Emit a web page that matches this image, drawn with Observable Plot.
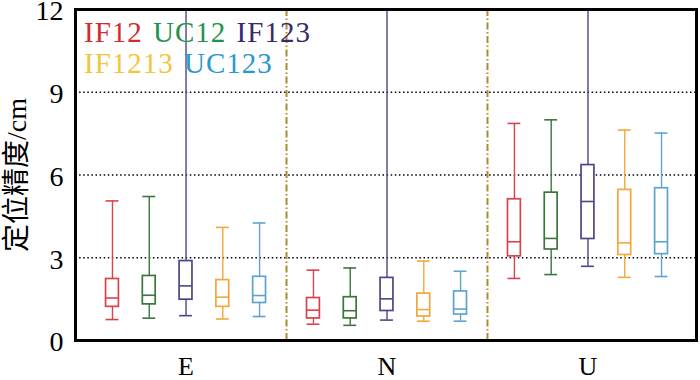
<!DOCTYPE html>
<html>
<head>
<meta charset="utf-8">
<script src="https://cdn.jsdelivr.net/npm/d3@7"></script>
<script src="https://cdn.jsdelivr.net/npm/@observablehq/plot@0.6"></script>
<style>
  body { margin: 0; background: #fff; }
  #wrap { position: relative; width: 700px; height: 380px; }
  #legend { position: absolute; left: 84px; top: 17px; font-family: "Liberation Serif", "Times New Roman", "DejaVu Serif", serif; font-size: 29px; line-height: 31px; letter-spacing: 1px; word-spacing: 2px; white-space: nowrap; }
  svg text { font-family: "Liberation Serif", "Times New Roman", "DejaVu Serif", "Noto Sans CJK SC", serif; }
</style>
</head>
<body>
<div id="wrap"><div id="legend"></div></div>
<script>
const groups = ["E", "N", "U"];
const series = ["IF12", "UC12", "IF123", "IF1213", "UC123"];
const boxColors = ["#d9434b", "#3c763c", "#4a4786", "#f3a73b", "#5ea3d0"];
const legendColors = ["#d22b2b", "#23924a", "#372a6e", "#f2c53d", "#2898d0"];
const yTicks = [0, 3, 6, 9, 12];

// rows: groups E, N, U; columns: series order
const lower  = [[0.76, 0.81, 0.90, 0.78, 0.87], [0.59, 0.55, 0.74, 0.70, 0.70], [2.25, 2.39, 2.69, 2.29, 2.32]];
const q1     = [[1.22, 1.31, 1.48, 1.22, 1.36], [0.80, 0.80, 1.07, 0.87, 0.94], [3.05, 3.30, 3.68, 3.10, 3.13]];
const median = [[1.54, 1.64, 1.98, 1.57, 1.63], [1.10, 1.08, 1.51, 1.12, 1.14], [3.58, 3.70, 5.04, 3.54, 3.58]];
const q3     = [[2.23, 2.34, 2.88, 2.19, 2.31], [1.54, 1.57, 2.27, 1.70, 1.78], [5.12, 5.36, 6.36, 5.46, 5.52]];
const upper  = [[5.06, 5.22, 12.0, 4.10, 4.26], [2.55, 2.63, 12.0, 2.88, 2.51], [7.87, 8.00, 12.0, 7.63, 7.52]];

const step = 0.183, half = 0.032;
const rows = [];
groups.forEach((g, gi) => series.forEach((s, si) => {
  const x = gi + 1 + (si - 2) * step;
  rows.push({group: g, series: s, color: boxColors[si], x, x1: x - half, x2: x + half,
    lo: lower[gi][si], q1: q1[gi][si], med: median[gi][si], q3: q3[gi][si], hi: upper[gi][si]});
}));
const caps = rows.flatMap(d => [{...d, y: d.lo}, ...(d.hi < 12 ? [{...d, y: d.hi}] : [])]);

const font = '"Liberation Serif", "Times New Roman", "DejaVu Serif", "Noto Sans CJK SC", serif';

const chart = Plot.plot({
  width: 700, height: 380,
  marginLeft: 75, marginRight: 4, marginTop: 9, marginBottom: 40,
  style: {fontFamily: font, background: "#fff", color: "#000"},
  x: {domain: [0.45, 3.54]},
  y: {domain: [0, 12]},
  marks: [
    Plot.ruleY([3, 6, 9], {stroke: "#000", strokeWidth: 1.3, strokeDasharray: "1.5,2.6"}),
    Plot.ruleX([1.5, 2.5], {stroke: "#b08a30", strokeWidth: 2, strokeDasharray: "7,2.5,1.5,2.5"}),
    Plot.ruleX(rows, {x: "x", y1: "lo", y2: "hi", stroke: "color", strokeWidth: 1.4}),
    Plot.ruleY(caps, {y: "y", x1: "x1", x2: "x2", stroke: "color", strokeWidth: 1.6}),
    Plot.rect(rows, {x1: "x1", x2: "x2", y1: "q1", y2: "q3", fill: "#fff", stroke: "color", strokeWidth: 1.7}),
    Plot.ruleY(rows, {y: "med", x1: "x1", x2: "x2", stroke: "color", strokeWidth: 1.6}),
    Plot.frame({stroke: "#000", strokeWidth: 3}),
    Plot.axisY(yTicks, {tickSize: 0, tickPadding: 12, fontSize: 28, dy: 2, label: null}),
    Plot.axisY({tickSize: 0, ticks: [], label: "定位精度/cm", fontSize: 28, labelAnchor: "center", labelArrow: "none", labelOffset: 69}),
    Plot.axisX([1, 2, 3], {tickSize: 0, tickPadding: 16, fontSize: 26, tickFormat: d => groups[d - 1], label: null})
  ]
});
document.getElementById("wrap").prepend(chart);

const legend = document.getElementById("legend");
const lines = [[0, 1, 2], [3, 4]];
legend.innerHTML = lines.map(idx => idx.map(i => `<span style="color:${legendColors[i]}">${series[i]}</span>`).join(" ")).join("<br>");
</script>
</body>
</html>
